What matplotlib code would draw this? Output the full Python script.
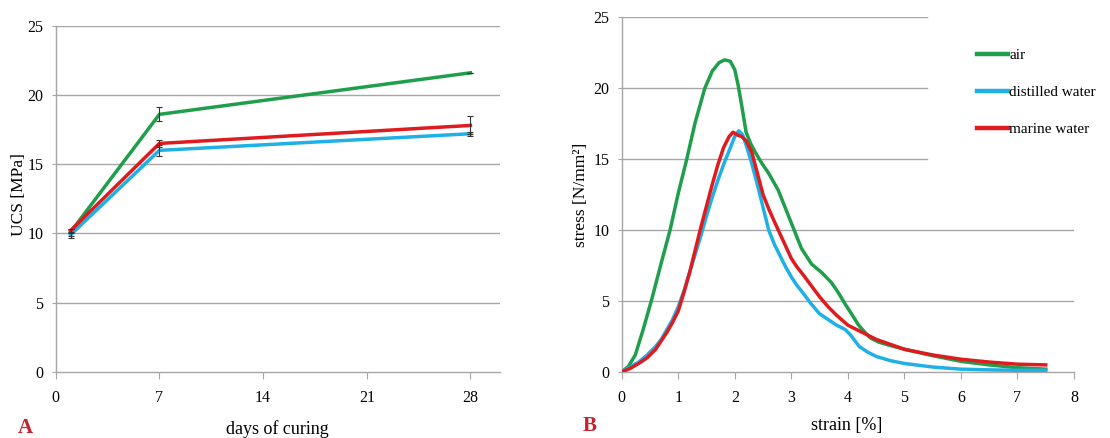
import numpy as np
import matplotlib.pyplot as plt

plt.rcParams['font.family'] = ['Liberation Serif', 'DejaVu Serif']

# panel A: UCS vs curing time
days = [1, 7, 28]
ucs_air = [10.1, 18.6, 21.6]
ucs_distilled = [9.9, 16.0, 17.2]
ucs_marine = [10.2, 16.5, 17.8]
err_air = [0.25, 0.5, 0.0]
err_distilled = [0.2, 0.4, 0.15]
err_marine = [0.15, 0.25, 0.65]

# panel B: stress-strain curves
strain_air = [0, 0.12, 0.24, 0.38, 0.53, 0.7, 0.855, 1.0, 1.15, 1.3, 1.47, 1.6, 1.72, 1.82, 1.92,
              2.0, 2.06, 2.13, 2.2, 2.28, 2.36, 2.48, 2.6, 2.77, 2.95, 3.07, 3.18, 3.36, 3.54,
              3.71, 3.83, 3.95, 4.08, 4.19, 4.3, 4.4, 4.55, 4.72, 5.0, 5.5, 6.0, 6.5, 7.0, 7.5]
stress_air = [0, 0.4, 1.2, 3.0, 5.1, 7.7, 10.0, 12.6, 15.0, 17.6, 20.0, 21.2, 21.8, 22.0, 21.9,
              21.3, 20.2, 18.6, 16.9, 16.1, 15.5, 14.7, 14.0, 12.8, 11.0, 9.8, 8.7, 7.6, 7.0,
              6.3, 5.6, 4.8, 4.0, 3.3, 2.8, 2.4, 2.1, 1.9, 1.6, 1.15, 0.75, 0.5, 0.3, 0.2]
strain_distilled = [0, 0.15, 0.3, 0.45, 0.6, 0.7, 0.8, 0.9, 1.0, 1.1, 1.2, 1.3, 1.4, 1.5, 1.6,
                    1.7, 1.8, 1.9, 2.0, 2.07, 2.14, 2.2, 2.3, 2.4, 2.5, 2.6, 2.7, 2.8, 2.9, 3.0,
                    3.1, 3.2, 3.35, 3.5, 3.65, 3.8, 3.95, 4.05, 4.2, 4.35, 4.5, 4.75, 5.0, 5.5,
                    6.0, 6.5, 7.0, 7.5]
stress_distilled = [0, 0.35, 0.7, 1.2, 1.8, 2.3, 3.0, 3.7, 4.6, 5.7, 7.0, 8.3, 9.6, 11.0, 12.3,
                    13.5, 14.6, 15.6, 16.6, 17.0, 16.7, 16.0, 14.7, 13.2, 11.6, 10.0, 9.0, 8.2,
                    7.4, 6.7, 6.1, 5.6, 4.8, 4.1, 3.7, 3.3, 3.0, 2.6, 1.8, 1.4, 1.1, 0.8, 0.6,
                    0.35, 0.2, 0.15, 0.12, 0.12]
strain_marine = [0, 0.15, 0.3, 0.45, 0.6, 0.7, 0.8, 0.9, 1.0, 1.1, 1.2, 1.3, 1.4, 1.5, 1.6,
                 1.7, 1.8, 1.9, 1.97, 2.05, 2.12, 2.2, 2.3, 2.4, 2.5, 2.6, 2.7, 2.85, 3.0, 3.1,
                 3.2, 3.35, 3.5, 3.65, 3.8, 4.0, 4.25, 4.5, 4.75, 5.0, 5.5, 6.0, 6.5, 7.0, 7.5]
stress_marine = [0, 0.25, 0.6, 1.0, 1.6, 2.2, 2.8, 3.5, 4.3, 5.6, 7.0, 8.6, 10.2, 11.7, 13.2,
                 14.6, 15.8, 16.6, 16.9, 16.7, 16.6, 16.3, 15.5, 14.0, 12.5, 11.5, 10.6, 9.3,
                 8.0, 7.4, 6.9, 6.1, 5.3, 4.6, 4.0, 3.3, 2.8, 2.3, 1.95, 1.6, 1.2, 0.9, 0.7,
                 0.55, 0.5]

labels = ['air', 'distilled water', 'marine water']
colors = ['#1f9e4c', '#1fb0e6', '#e01b1f']
grid_c = '#a6a6a6'
tick_font = 11.5

fig = plt.figure(figsize=(11.1, 4.38), dpi=100)
ax1 = fig.add_axes([0.0502, 0.1507, 0.4003, 0.7906])
ax2 = fig.add_axes([0.5601, 0.1507, 0.4075, 0.8098])

# ---- panel A
for vals, err, c in [(ucs_air, err_air, colors[0]),
                     (ucs_distilled, err_distilled, colors[1]),
                     (ucs_marine, err_marine, colors[2])]:
    ax1.plot(days, vals, color=c, lw=2.5, zorder=3)
    ax1.errorbar(days, vals, yerr=err, fmt='none', ecolor='#333333', elinewidth=0.8,
                 capsize=2.5, capthick=0.8, zorder=4)
ax1.set_xlim(0, 30)
ax1.set_ylim(0, 25)
ax1.set_xticks([0, 7, 14, 21, 28])
ax1.set_yticks([0, 5, 10, 15, 20, 25])
for yv in [5, 10, 15, 20, 25]:
    ax1.axhline(yv, color=grid_c, lw=1, zorder=1)

# ---- panel B
ax2.plot(strain_air, stress_air, color=colors[0], lw=2.5, label=labels[0], zorder=3)
ax2.plot(strain_distilled, stress_distilled, color=colors[1], lw=2.5, label=labels[1], zorder=3)
ax2.plot(strain_marine, stress_marine, color=colors[2], lw=2.5, label=labels[2], zorder=4)
ax2.set_xlim(0, 8)
ax2.set_ylim(0, 25)
ax2.set_xticks(range(0, 9))
ax2.set_yticks([0, 5, 10, 15, 20, 25])
# upper gridlines are hidden behind the legend box in the original
for yv in [5, 10, 15, 20, 25]:
    ax2.axhline(yv, color=grid_c, lw=1, zorder=1, xmax=0.675 if yv >= 15 else 1)

for ax in (ax1, ax2):
    for s in ['top', 'right']:
        ax.spines[s].set_visible(False)
    for s in ['left', 'bottom']:
        ax.spines[s].set_color(grid_c)
        ax.spines[s].set_linewidth(1)
    ax.tick_params(axis='x', length=5, color=grid_c, labelsize=tick_font, pad=8)
    ax.tick_params(axis='y', length=3, color=grid_c, labelsize=tick_font, pad=6)

leg = ax2.legend(loc='upper left', bbox_to_anchor=(0.868, 0.921), bbox_transform=fig.transFigure,
                 frameon=False, handlelength=2.0, handletextpad=0.1, labelspacing=1.52,
                 fontsize=11)
for ln in leg.get_lines():
    ln.set_linewidth(3.2)

# axis titles and panel letters
fig.text(0.017, 0.555, 'UCS [MPa]', rotation=90, ha='center', va='center', fontsize=12.5)
fig.text(0.5235, 0.555, 'stress [N/mm²]', rotation=90, ha='center', va='center', fontsize=12.5)
fig.text(0.25, 1 - 434 / 438, 'days of curing', ha='center', va='baseline', fontsize=13)
fig.text(0.763, 1 - 430 / 438, 'strain [%]', ha='center', va='baseline', fontsize=13)
fig.text(0.016, 1 - 433 / 438, 'A', ha='left', va='baseline', fontsize=15, fontweight='bold',
         color='#c8202c')
fig.text(0.525, 1 - 431 / 438, 'B', ha='left', va='baseline', fontsize=15, fontweight='bold',
         color='#c8202c')

fig.savefig('out.png', dpi=100)
